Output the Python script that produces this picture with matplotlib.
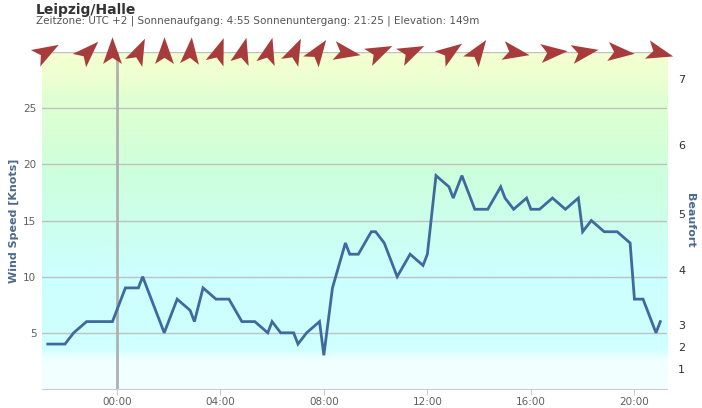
import numpy as np
import matplotlib
matplotlib.use('Agg')
import matplotlib.pyplot as plt
from matplotlib.path import Path
from matplotlib.markers import MarkerStyle
from matplotlib.transforms import Affine2D
from matplotlib.colors import LinearSegmentedColormap

# wind observations (local time, first entries are the evening before)
times = ['21:20', '22:00', '22:20', '22:50', '23:20', '23:50',
         '00:20', '00:50', '01:00', '01:50', '02:20', '02:50', '03:00', '03:20',
         '03:50', '04:20', '04:50', '05:20', '05:50', '06:00', '06:20', '06:50',
         '07:00', '07:20', '07:50', '08:00', '08:20', '08:50', '09:00', '09:20',
         '09:50', '10:00', '10:20', '10:50', '11:20', '11:50', '12:00', '12:20',
         '12:50', '13:00', '13:20', '13:50', '14:20', '14:50', '15:00', '15:20',
         '15:50', '16:00', '16:20', '16:50', '17:20', '17:50', '18:00', '18:20',
         '18:50', '19:20', '19:50', '20:00', '20:20', '20:50', '21:00']
speed = [4, 4, 5, 6, 6, 6,
         9, 9, 10, 5, 8, 7, 6, 9,
         8, 8, 6, 6, 5, 6, 5, 5,
         4, 5, 6, 3, 9, 13, 12, 12,
         14, 14, 13, 10, 12, 11, 12, 19,
         18, 17, 19, 16, 16, 18, 17, 16,
         17, 16, 16, 17, 16, 17, 14, 15,
         14, 14, 13, 8, 8, 5, 6]

# wind direction arrows (direction the arrow points, degrees ccw from east)
arrow_times = ['21:13', '22:50', '23:50', '00:50', '01:50', '02:50', '03:55',
               '04:50', '05:50', '06:50', '07:45', '08:50', '10:05', '11:20',
               '12:50', '13:55', '15:20', '16:50', '18:00', '19:25', '20:55']
arrow_dir = [30, 45, 90, 65, 90, 85, 70, 75, 75, 65, 55, -10, 25, 25,
             35, 55, -10, 5, 10, -5, -15]

# background bands (knots)
band_edges = [0, 2.5, 3.5, 10, 19, 22, 26, 28, 30]
band_colors = ['#f3ffff', '#f0ffff', '#d0ffff', '#ccffff', '#ccffdd',
               '#d6ffd6', '#e0ffd2', '#eeffd0', '#f4ffd0']

# Beaufort labels on the right axis
bft_pos = [1.8, 3.7, 5.7, 10.6, 15.6, 21.7, 27.6]
bft_labels = ['1', '2', '3', '4', '5', '6', '7']

xticks = [0, 4, 8, 12, 16, 20]
xticklabels = ['00:00', '04:00', '08:00', '12:00', '16:00', '20:00']
yticks = [5, 10, 15, 20, 25]


def to_hours(tlist):
    '''converts HH:MM strings to hours since midnight, day change when
    the clock goes back'''
    out = []
    day = -1
    prev = None
    for t in tlist:
        h, m = t.split(':')
        v = int(h) + int(m) / 60
        if prev is not None and v < prev:
            day += 1
        prev = v
        out.append(v + 24 * day)
    return np.array(out)


x = to_hours(times)
xa = to_hours(arrow_times)

fig = plt.figure(figsize=(7.02, 4.08), dpi=100)
ax = fig.add_axes([0.0598, 0.0466, 0.8904, 0.8259])
xmin, xmax = -2.89, 21.26
ymin, ymax = 0, 30

# gradient background
stops = [(e / 30, c) for e, c in zip(band_edges, band_colors)]
stops.append((1.0, band_colors[-1]))
cmap = LinearSegmentedColormap.from_list('bands', stops)
grad = np.linspace(0, 1, 300).reshape(-1, 1)
ax.imshow(grad, cmap=cmap, aspect='auto', origin='lower',
          extent=[xmin, xmax, ymin, ymax], zorder=0)

ax.set_xlim(xmin, xmax)
ax.set_ylim(ymin, ymax)

for yv in yticks + [30]:
    ax.axhline(yv, color='#c0c0c0', lw=1, zorder=1)
ax.axvline(0, color='#b0b0b0', lw=2, zorder=1)

ax.plot(x, speed, color='#3e6a9d', lw=2, zorder=3, solid_joinstyle='miter')

# wind arrows
verts = [(1, 0), (-0.75, 0.62), (-0.35, 0), (-0.75, -0.62), (1, 0)]
codes = [Path.MOVETO, Path.LINETO, Path.LINETO, Path.LINETO, Path.CLOSEPOLY]
dart = Path(verts, codes)
for xv, d in zip(xa, arrow_dir):
    m = MarkerStyle(dart, transform=Affine2D().rotate_deg(d))
    ax.plot(xv, 30, marker=m, ms=22, color='#a83c3c', mec='none',
            clip_on=False, zorder=5)

for s in ['top', 'left', 'right']:
    ax.spines[s].set_visible(False)
ax.spines['bottom'].set_color('#c0d0e0')

ax.set_xticks(xticks)
ax.set_xticklabels(xticklabels)
ax.set_yticks(yticks)
ax.tick_params(axis='x', colors='#c0d0e0', labelcolor='#606060', length=4,
               labelsize=7.5, pad=1.5)
ax.tick_params(axis='y', length=0, labelcolor='#606060', labelsize=7.5, pad=4)
ax.set_ylabel('Wind Speed [Knots]', color='#4d6a8a', fontsize=8,
              fontweight='bold', labelpad=3)

ax2 = ax.twinx()
ax2.set_ylim(ymin, ymax)
ax2.set_yticks(bft_pos)
ax2.set_yticklabels(bft_labels)
ax2.tick_params(axis='y', length=0, labelcolor='#303030', labelsize=8, pad=8)
for s in ax2.spines.values():
    s.set_visible(False)
fig.text(690 / 702, 1 - 220 / 408, 'Beaufort', color='#4d6a8a', fontsize=8,
         fontweight='bold', rotation=270, ha='center', va='center')

fig.text(0.051, 0.993, 'Leipzig/Halle', fontsize=10, fontweight='bold',
         color='#333333', va='top')
fig.text(0.051, 0.962, 'Zeitzone: UTC +2 | Sonnenaufgang: 4:55 '
         'Sonnenuntergang: 21:25 | Elevation: 149m', fontsize=7.5,
         color='#555555', va='top')

fig.savefig('out.png', dpi=100)
